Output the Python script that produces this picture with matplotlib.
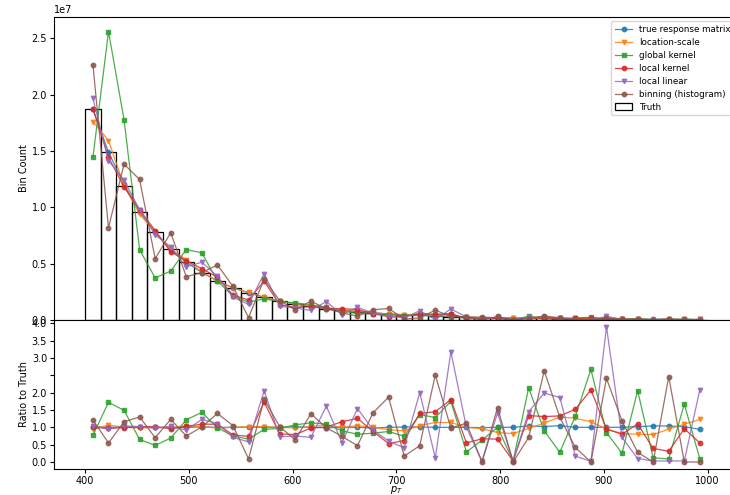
import numpy as np
import matplotlib
matplotlib.use("Agg")
import matplotlib.pyplot as plt
from matplotlib.ticker import FuncFormatter

# pT binning: 40 bins of width 15 GeV between 400 and 1000
pt_edges = np.arange(400, 1001, 15)

# Truth spectrum (counts per bin, units of 1e7)
truth = [1.873, 1.488, 1.192, 0.959, 0.778, 0.630, 0.512, 0.417, 0.349, 0.284,
         0.240, 0.200, 0.168, 0.142, 0.120, 0.102, 0.087, 0.074, 0.064, 0.055,
         0.047, 0.041, 0.035, 0.031, 0.027, 0.023, 0.020, 0.018, 0.016, 0.014,
         0.012, 0.011, 0.0095, 0.0084, 0.0074, 0.0065, 0.0058, 0.0051, 0.0046, 0.0041]

# Unfolded / truth ratio for each method
ratio_true_matrix = [1.00, 1.00, 1.01, 1.00, 1.00, 0.99, 1.00, 1.01, 1.00, 1.00,
                     1.01, 1.00, 1.00, 1.02, 1.00, 0.99, 1.00, 1.00, 0.98, 1.00,
                     1.01, 1.01, 1.00, 1.00, 1.00, 0.99, 1.00, 1.00, 1.04, 1.02,
                     1.05, 1.00, 1.00, 1.00, 1.00, 1.02, 1.04, 1.04, 1.02, 0.94]
ratio_location_scale = [0.94, 1.07, 1.00, 0.98, 1.00, 1.00, 1.04, 1.02, 0.98, 1.00,
                        1.02, 1.02, 1.00, 0.98, 1.02, 1.07, 1.00, 1.05, 1.00, 0.93,
                        0.90, 1.05, 1.14, 1.14, 1.00, 0.96, 0.85, 0.82, 0.97, 1.12,
                        1.30, 1.26, 1.16, 0.95, 0.82, 0.80, 0.79, 0.95, 1.09, 1.23]
ratio_global_kernel = [0.77, 1.72, 1.49, 0.65, 0.48, 0.69, 1.22, 1.43, 0.99, 0.75,
                       0.66, 0.94, 0.97, 1.07, 1.13, 1.09, 0.90, 0.80, 0.83, 0.88,
                       0.74, 1.37, 1.28, 1.75, 0.29, 0.63, 1.00, 0.02, 2.14, 0.90,
                       0.28, 1.32, 2.67, 0.85, 0.25, 2.06, 0.12, 0.09, 1.67, 0.09]
ratio_local_kernel = [1.00, 0.97, 0.99, 1.02, 1.02, 0.96, 1.03, 1.09, 1.09, 0.78,
                      0.74, 1.73, 0.81, 0.79, 0.98, 1.01, 1.16, 1.26, 0.88, 0.53,
                      0.62, 1.40, 1.45, 1.80, 0.55, 0.67, 0.66, 0.03, 1.34, 1.31,
                      1.33, 1.52, 2.08, 0.95, 0.80, 1.10, 0.39, 0.31, 0.96, 0.55]
ratio_local_linear = [1.05, 0.95, 1.04, 1.02, 0.97, 1.03, 0.92, 1.23, 1.11, 0.71,
                      0.58, 2.06, 0.73, 0.75, 0.71, 1.61, 0.56, 1.54, 0.93, 0.60,
                      0.41, 2.00, 0.12, 3.18, 1.00, 0.02, 1.41, 0.03, 1.45, 1.99,
                      1.86, 0.17, 0.02, 3.90, 0.71, 0.10, 0.03, 0.03, 0.03, 2.09]
ratio_binning = [1.21, 0.55, 1.16, 1.30, 0.70, 1.23, 0.75, 1.01, 1.40, 1.05,
                 0.09, 1.81, 1.02, 0.64, 1.39, 0.99, 0.74, 0.47, 1.42, 1.87,
                 0.17, 0.47, 2.51, 0.98, 1.12, 0.00, 1.57, 0.00, 0.71, 2.63,
                 1.29, 0.42, 0.00, 2.41, 1.18, 0.28, 0.00, 2.46, 0.00, 0.00]

labels = ["true response matrix", "location-scale", "global kernel",
          "local kernel", "local linear", "binning (histogram)"]
ratios = [ratio_true_matrix, ratio_location_scale, ratio_global_kernel,
          ratio_local_kernel, ratio_local_linear, ratio_binning]
markers = ["o", "v", "s", "o", "v", "o"]
colors = ["C0", "C1", "C2", "C3", "C4", "C5"]

centers = 0.5 * (pt_edges[:-1] + pt_edges[1:])
widths = np.diff(pt_edges)
truth_counts = np.array(truth) * 1e7

fig = plt.figure(figsize=(7.30, 4.95), dpi=100)
ax_top = fig.add_axes([0.074, 0.3535, 0.938, 0.612])
ax_bot = fig.add_axes([0.074, 0.053, 0.938, 0.3005], sharex=ax_top)

for lab, r, m, c in zip(labels, ratios, markers, colors):
    r = np.array(r)
    ax_top.plot(centers, r * truth_counts, marker=m, color=c, lw=0.9,
                ms=3.2, alpha=0.85, label=lab)
    ax_bot.plot(centers, r, marker=m, color=c, lw=0.9, ms=3.2, alpha=0.85)

ax_top.bar(pt_edges[:-1], truth_counts, width=widths, align="edge",
           fill=False, edgecolor="black", linewidth=0.9, label="Truth")

ax_top.set_ylabel("Bin Count", fontsize=7, labelpad=2)
ax_bot.set_ylabel("Ratio to Truth", fontsize=7, labelpad=2)
ax_bot.set_xlabel("$p_T$", fontsize=7, labelpad=-1)

for ax in (ax_top, ax_bot):
    ax.tick_params(labelsize=7, length=3, width=0.8, pad=2)
    for s in ax.spines.values():
        s.set_linewidth(0.8)
ax_top.yaxis.get_offset_text().set_fontsize(7)
plt.setp(ax_top.get_xticklabels(), visible=False)

ax_bot.set_yticks(np.arange(0, 4.01, 0.5))
ax_bot.yaxis.set_major_formatter(
    FuncFormatter(lambda v, p: "" if abs(v - 2.5) < 1e-6 else f"{v:.1f}"))

ax_top.legend(loc="upper right", fontsize=6.3, handlelength=2.0,
              labelspacing=0.45, borderpad=0.4)

fig.savefig("out.png", dpi=100)
